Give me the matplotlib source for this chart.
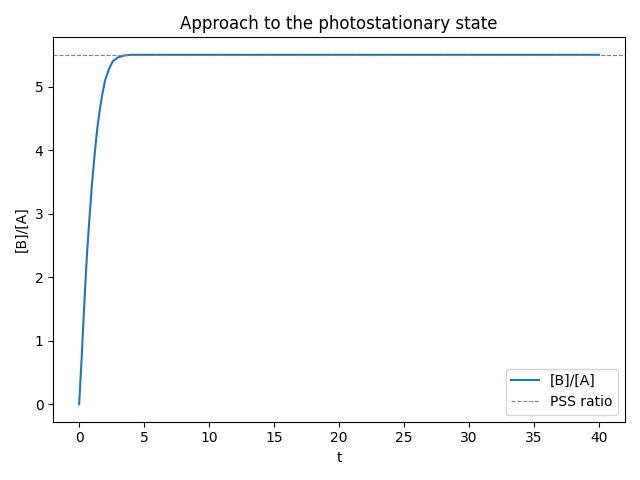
import matplotlib
matplotlib.use("Agg")
import matplotlib.pyplot as plt

t = [0, 0.2, 0.4, 0.6, 0.8, 1.0, 1.2, 1.4, 1.6, 1.8, 2.0, 2.3, 2.6, 3.0, 3.5, 4, 5, 40]
ratio = [0, 0.75, 1.6, 2.35, 2.95, 3.5, 3.95, 4.35, 4.65, 4.9, 5.1, 5.28, 5.4, 5.46, 5.49, 5.5, 5.5, 5.5]
pss = 5.5

fig, ax = plt.subplots(figsize=(6.4, 4.8), dpi=100)
ax.plot(t, ratio, label="[B]/[A]")
ax.axhline(pss, color="gray", linestyle="--", linewidth=0.8, label="PSS ratio")
ax.set_xlabel("t")
ax.set_ylabel("[B]/[A]")
ax.set_title("Approach to the photostationary state")
ax.legend(loc="lower right")
fig.tight_layout()
fig.savefig("out.png")
